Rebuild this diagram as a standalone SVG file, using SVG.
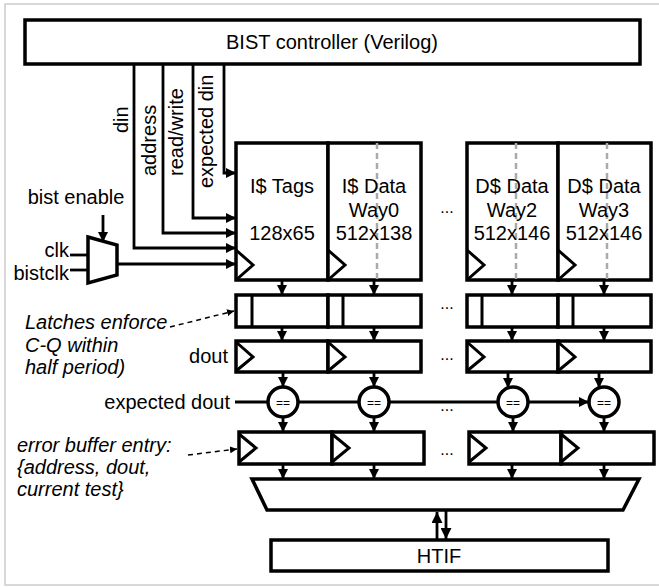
<svg xmlns="http://www.w3.org/2000/svg" width="659" height="587" viewBox="0 0 659 587">
<defs>
<marker id="ah" viewBox="0 0 10 10" refX="10" refY="5" markerWidth="10" markerHeight="10" markerUnits="userSpaceOnUse" orient="auto"><path d="M0,0 L10,5 L0,10 z" fill="#000"/></marker>
<marker id="ahs" viewBox="0 0 10 10" refX="10" refY="5" markerWidth="7" markerHeight="7" markerUnits="userSpaceOnUse" orient="auto"><path d="M0,0 L10,5 L0,10 z" fill="#000"/></marker>
<marker id="ahb" viewBox="0 0 10 10" refX="10" refY="5" markerWidth="14" markerHeight="11" markerUnits="userSpaceOnUse" orient="auto"><path d="M0,0 L10,5 L0,10 z" fill="#000"/></marker>
</defs>
<style>
.bx{fill:#fff;stroke:#000;stroke-width:3.5}
.ln{fill:none;stroke:#000;stroke-width:2.8}
.w{fill:none;stroke:#000;stroke-width:2.8;marker-end:url(#ah)}
.clk{fill:none;stroke:#000;stroke-width:3}
.dash{fill:none;stroke:#aaa;stroke-width:2.5;stroke-dasharray:6,4}
.ann{fill:none;stroke:#000;stroke-width:1.5;stroke-dasharray:5,4;marker-end:url(#ahs)}
text{font-family:"Liberation Sans",Arial,Helvetica,sans-serif;font-size:20px;fill:#000}
.it{font-style:italic}
.c{text-anchor:middle}
.e{text-anchor:end}
.eq{font-size:12px}
.dots{font-size:16px}
</style>
<rect x="5" y="4" width="670" height="581" fill="#fff" stroke="#ccc" stroke-width="1.5"/>

<g id="bist">
<rect class="bx" x="25" y="20" width="615" height="44"/>
<text class="c" x="332" y="49">BIST controller (Verilog)</text>
</g>

<g id="connectors">
<polyline class="w" points="224,64 224,173 236,173"/>
<polyline class="w" points="193,64 193,218 236,218"/>
<polyline class="w" points="163,64 163,233 236,233"/>
<polyline class="w" points="134,64 134,248 236,248"/>
<line class="w" x1="117" y1="264" x2="236" y2="264"/>
<line class="w" x1="103" y1="215" x2="103" y2="242"/>
<line class="ln" x1="70" y1="255" x2="88" y2="255"/>
<line class="ln" x1="70" y1="270" x2="88" y2="270"/>
<line class="w" x1="282" y1="281" x2="282" y2="295"/>
<line class="w" x1="374" y1="281" x2="374" y2="295"/>
<line class="w" x1="512" y1="281" x2="512" y2="295"/>
<line class="w" x1="604" y1="281" x2="604" y2="295"/>
<line class="w" x1="282" y1="327" x2="282" y2="341"/>
<line class="w" x1="374" y1="327" x2="374" y2="341"/>
<line class="w" x1="512" y1="327" x2="512" y2="341"/>
<line class="w" x1="604" y1="327" x2="604" y2="341"/>
<line class="w" x1="283" y1="372" x2="283" y2="387"/>
<line class="w" x1="374" y1="372" x2="374" y2="387"/>
<line class="w" x1="508" y1="372" x2="508" y2="388"/>
<line class="w" x1="599" y1="372" x2="599" y2="388"/>
<line class="w" x1="283" y1="418" x2="283" y2="432"/>
<line class="w" x1="374" y1="418" x2="374" y2="432"/>
<line class="w" x1="513" y1="418" x2="513" y2="432"/>
<line class="w" x1="604" y1="418" x2="604" y2="432"/>
<line class="w" x1="283" y1="464" x2="283" y2="479"/>
<line class="w" x1="374" y1="464" x2="374" y2="479"/>
<line class="w" x1="512" y1="464" x2="512" y2="479"/>
<line class="w" x1="604" y1="464" x2="604" y2="479"/>
<line class="ln" x1="235" y1="402" x2="268" y2="402"/>
<line class="ln" x1="298" y1="402" x2="359" y2="402"/>
<line class="ln" x1="389" y1="402" x2="498" y2="402"/>
<line class="w" x1="528" y1="402" x2="589" y2="402"/>
<line class="ln" x1="437" y1="540" x2="437" y2="512" style="marker-end:url(#ahb)"/>
<line class="ln" x1="446" y1="511" x2="446" y2="539" style="marker-end:url(#ahb)"/>
<line class="ann" x1="170" y1="327" x2="234" y2="311"/>
<line class="ann" x1="188" y1="455" x2="237" y2="449"/>
</g>

<g id="labels">
<text transform="translate(128,133) rotate(-90)">din</text>
<text transform="translate(156,176) rotate(-90)">address</text>
<text transform="translate(183,176) rotate(-90)">read/write</text>
<text transform="translate(213,188) rotate(-90)">expected din</text>
<text class="c" x="76" y="204">bist enable</text>
<text class="e" x="69" y="257">clk</text>
<text class="e" x="69" y="280">bistclk</text>
<text class="it" x="25" y="329">Latches enforce</text>
<text class="it" x="25" y="352">C-Q within</text>
<text class="it" x="25" y="374">half period)</text>
<text class="e" x="228" y="363">dout</text>
<text class="e" x="230" y="409">expected dout</text>
<text class="it" x="17" y="452">error buffer entry:</text>
<text class="it" x="17" y="474">{address, dout,</text>
<text class="it" x="17" y="496">current test}</text>
<text class="c dots" x="447" y="213">...</text>
<text class="c dots" x="447" y="309">...</text>
<text class="c dots" x="447" y="360">...</text>
<text class="c dots" x="447" y="411">...</text>
<text class="c dots" x="447" y="455">...</text>
</g>

<g id="clkmux">
<polygon class="bx" points="88,237 117,245 117,275 88,283"/>
</g>

<g id="itags">
<rect class="bx" x="236" y="143" width="92" height="137"/>
<polyline class="clk" points="236,250 253,265 236,280"/>
<text class="c" x="282" y="193">I$ Tags</text>
<text class="c" x="282" y="240">128x65</text>
</g>
<g id="idata0">
<rect class="bx" x="328" y="143" width="93" height="137"/>
<line class="dash" x1="377" y1="143" x2="377" y2="280"/>
<polyline class="clk" points="328,250 345,265 328,280"/>
<text class="c" x="374" y="193">I$ Data</text>
<text class="c" x="374" y="217">Way0</text>
<text class="c" x="374" y="240">512x138</text>
</g>
<g id="ddata2">
<rect class="bx" x="467" y="143" width="91" height="137"/>
<line class="dash" x1="516" y1="143" x2="516" y2="280"/>
<polyline class="clk" points="467,250 484,265 467,280"/>
<text class="c" x="512" y="193">D$ Data</text>
<text class="c" x="512" y="217">Way2</text>
<text class="c" x="512" y="240">512x146</text>
</g>
<g id="ddata3">
<rect class="bx" x="558" y="143" width="93" height="137"/>
<line class="dash" x1="607" y1="143" x2="607" y2="280"/>
<polyline class="clk" points="558,250 575,265 558,280"/>
<text class="c" x="604" y="193">D$ Data</text>
<text class="c" x="604" y="217">Way3</text>
<text class="c" x="604" y="240">512x146</text>
</g>

<g id="latches">
<rect class="bx" x="236" y="295" width="92" height="32"/><line class="clk" x1="252" y1="295" x2="252" y2="327"/>
<rect class="bx" x="328" y="295" width="93" height="32"/><line class="clk" x1="343" y1="295" x2="343" y2="327"/>
<rect class="bx" x="467" y="295" width="91" height="32"/><line class="clk" x1="482" y1="295" x2="482" y2="327"/>
<rect class="bx" x="558" y="295" width="93" height="32"/><line class="clk" x1="573" y1="295" x2="573" y2="327"/>
</g>

<g id="douts">
<rect class="bx" x="236" y="341" width="92" height="31"/><polyline class="clk" points="236,342 253,357 236,371"/>
<rect class="bx" x="328" y="341" width="93" height="31"/><polyline class="clk" points="328,342 345,357 328,371"/>
<rect class="bx" x="467" y="341" width="91" height="31"/><polyline class="clk" points="467,342 484,357 467,371"/>
<rect class="bx" x="558" y="341" width="93" height="31"/><polyline class="clk" points="558,342 575,357 558,371"/>
</g>

<g id="comparators">
<circle class="bx" cx="283" cy="402" r="15"/><text class="c eq" x="283" y="407">==</text>
<circle class="bx" cx="374" cy="402" r="15"/><text class="c eq" x="374" y="407">==</text>
<circle class="bx" cx="513" cy="402" r="15"/><text class="c eq" x="513" y="407">==</text>
<circle class="bx" cx="604" cy="402" r="15"/><text class="c eq" x="604" y="407">==</text>
</g>

<g id="errbuf">
<rect class="bx" x="239" y="432" width="93" height="32"/><polyline class="clk" points="239,434 256,448 239,462"/>
<rect class="bx" x="332" y="432" width="92" height="32"/><polyline class="clk" points="332,434 349,448 332,462"/>
<rect class="bx" x="469" y="432" width="92" height="32"/><polyline class="clk" points="469,434 486,448 469,462"/>
<rect class="bx" x="561" y="432" width="93" height="32"/><polyline class="clk" points="561,434 578,448 561,462"/>
</g>

<g id="arbiter">
<polygon class="bx" points="252,479 639,479 623,510 267,510"/>
</g>

<g id="htif">
<rect class="bx" x="271" y="540" width="337" height="31"/>
<text class="c" x="439" y="563">HTIF</text>
</g>
</svg>
